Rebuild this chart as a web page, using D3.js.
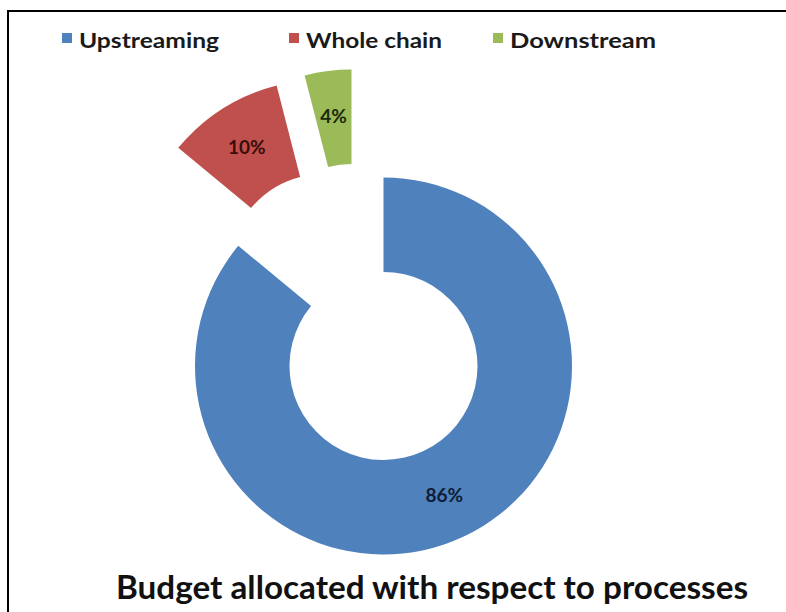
<!DOCTYPE html>
<html>
<head>
<meta charset="utf-8">
<script src="https://cdn.jsdelivr.net/npm/d3@7"></script>
<style>
  html, body { margin: 0; padding: 0; background: #ffffff; }
  svg { display: block; }
</style>
</head>
<body>
<svg id="chart" width="786" height="612"></svg>
<script>
// Budget share per process
const categories = ["Upstreaming", "Whole chain", "Downstream"];
const values = [86, 10, 4];
const labels = ["86%", "10%", "4%"];

// Styling per slice (colour, label colour, explode offset in px)
const colors = ["#4f81bd", "#c0504d", "#9bbb59"];
const labelColors = ["#0f1d38", "#3a0c0c", "#1c2a0c"];
const explode = [[0, 0], [-60, -98], [-32, -108]];

const title = "Budget allocated with respect to processes";

const svg = d3.select("#chart");
const W = 786, H = 612;

svg.append("rect").attr("width", W).attr("height", H).attr("fill", "#fff");

// chart frame (runs off the right and bottom edges)
svg.append("rect")
  .attr("x", 8).attr("y", 11)
  .attr("width", W + 10).attr("height", H + 10)
  .attr("fill", "none").attr("stroke", "#000").attr("stroke-width", 2);

const cx = 383.5, cy = 366;
const rOuter = 188.5, rInner = 94;

const pie = d3.pie().sort(null).value(d => d)
  .startAngle(0).endAngle(2 * Math.PI);
const arcs = pie(values);

const arc = d3.arc().innerRadius(rInner).outerRadius(rOuter);
const labelArc = d3.arc().innerRadius(143).outerRadius(143);

const g = svg.append("g").attr("transform", `translate(${cx},${cy})`);

const slices = g.selectAll("g.slice").data(arcs).enter().append("g")
  .attr("class", "slice")
  .attr("transform", (d, i) => `translate(${explode[i][0]},${explode[i][1]})`);

slices.append("path")
  .attr("d", arc)
  .attr("fill", (d, i) => colors[i]);

slices.append("text")
  .attr("transform", d => `translate(${labelArc.centroid(d)})`)
  .attr("text-anchor", "middle")
  .attr("dy", "0.35em")
  .attr("font-family", "Lato, 'Open Sans', sans-serif")
  .attr("font-weight", "bold")
  .attr("font-size", 19)
  .attr("fill", (d, i) => labelColors[i])
  .text((d, i) => labels[i]);

// legend
const legendX = [62, 289, 493];
const legendW = [140, 136, 146];
const legend = svg.append("g");
categories.forEach((c, i) => {
  legend.append("rect")
    .attr("x", legendX[i]).attr("y", 33)
    .attr("width", 10).attr("height", 10)
    .attr("fill", colors[i]);
  legend.append("text")
    .attr("x", legendX[i] + 17).attr("y", 48)
    .attr("font-family", "Lato, 'Open Sans', sans-serif")
    .attr("font-weight", "bold")
    .attr("font-size", 20)
    .attr("fill", "#1a1a1a")
    .attr("textLength", legendW[i])
    .attr("lengthAdjust", "spacingAndGlyphs")
    .text(c);
});

// title
svg.append("text")
  .attr("x", 116).attr("y", 599)
  .attr("font-family", "Lato, 'Open Sans', sans-serif")
  .attr("font-weight", "bold")
  .attr("font-size", 32)
  .attr("fill", "#111")
  .attr("textLength", 632)
  .attr("lengthAdjust", "spacingAndGlyphs")
  .text(title);
</script>
</body>
</html>
